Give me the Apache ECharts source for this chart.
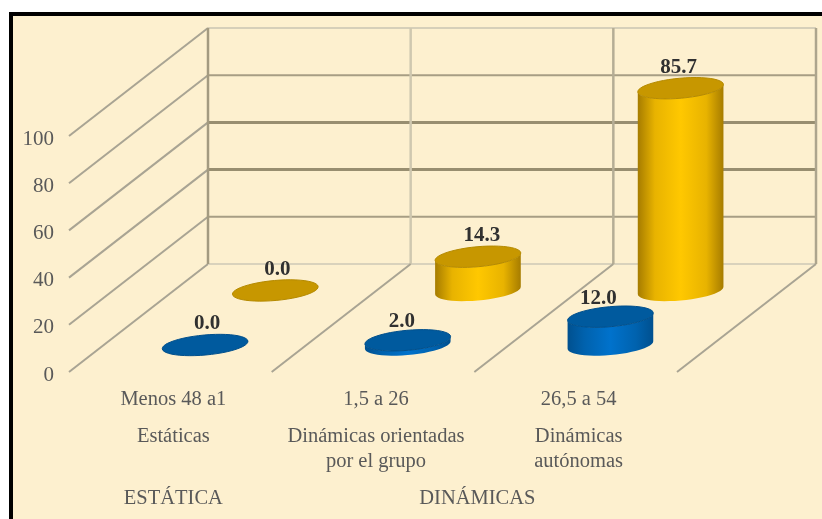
<!DOCTYPE html>
<html>
<head>
<meta charset="utf-8">
<script src="https://cdn.jsdelivr.net/npm/echarts@6/dist/echarts.min.js"></script>
<style>
  html, body { margin: 0; background: #fff; }
  #chart { position: absolute; left: 0; top: 0; width: 822px; height: 519px; }
</style>
</head>
<body>
<div id="chart"></div>
<script>
// datos
const rangos = ['Menos 48 a1', '1,5 a 26', '26,5 a 54']
const tipos = ['Estáticas', 'Dinámicas orientadas\npor el grupo', 'Dinámicas\nautónomas']
const grupos = ['', 'ESTÁTICA', '', '', 'DINÁMICAS', '', '']
const serieAtras = [0, 14.3, 85.7]
const serieFrente = [0, 2, 12]
const ticks = [0, 20, 40, 60, 80, 100]
const tickColors = ['#d9d2bc', '#a79e84', '#988e70', '#988e70', '#a79e84', '#d6cfb9']
const wallColors = ['#a39a80', '#cfc8b0', '#b5ad95', '#ada58d']

// vector de profundidad del piso 3D
const DEPTH_X = 139
const DEPTH_Y = -108
const RX = 43
const RY = 10
const TILT = -0.09

const textGray = '#595959'
const serif = '"Liberation Serif", serif'

function project (pt, d) {
  return [pt[0] + DEPTH_X * d, pt[1] + DEPTH_Y * d]
}

function ellipsePoint (c, t) {
  const ex = RX * Math.cos(t)
  const ey = RY * Math.sin(t)
  return [
    c[0] + ex * Math.cos(TILT) - ey * Math.sin(TILT),
    c[1] + ex * Math.sin(TILT) + ey * Math.cos(TILT)
  ]
}

function ellipsePoly (c) {
  const pts = []
  for (let i = 0; i < 48; i++) pts.push(ellipsePoint(c, i / 48 * Math.PI * 2))
  return pts
}

function cylinder (depth, colors) {
  return function (params, api) {
    const idx = api.value(0)
    const val = api.value(1)
    const base = project(api.coord([idx, 0]), depth)
    const top = project(api.coord([idx, val]), depth)
    const off = colors.labelOffset[idx]
    const children = []
    if (val > 0) {
      // cuerpo: mitad inferior de la base + mitad superior del tope
      const t0 = Math.atan(-(RY / RX) * Math.tan(TILT))
      const body = []
      for (let i = 0; i <= 24; i++) body.push(ellipsePoint(base, t0 + i / 24 * Math.PI))
      for (let i = 24; i >= 0; i--) body.push(ellipsePoint(top, t0 + i / 24 * Math.PI))
      children.push({
        type: 'polygon',
        shape: { points: body },
        style: {
          fill: new echarts.graphic.LinearGradient(0, 0, 1, 0, [
            { offset: 0, color: colors.edge },
            { offset: 0.2, color: colors.side },
            { offset: 0.5, color: colors.mid },
            { offset: 0.8, color: colors.side },
            { offset: 1, color: colors.edge }
          ])
        }
      })
    }
    children.push({
      type: 'polygon',
      shape: { points: ellipsePoly(top) },
      style: { fill: colors.top, stroke: colors.line, lineWidth: 1 }
    })
    children.push({
      type: 'text',
      style: {
        x: top[0] + off[0],
        y: top[1] + off[1],
        text: val.toFixed(1),
        fill: '#303030',
        font: 'bold 21px ' + serif,
        align: 'center',
        verticalAlign: 'middle'
      }
    })
    return { type: 'group', children: children }
  }
}

function renderWalls (params, api) {
  const tick = api.value(1)
  const band = api.size([1, 0])[0]
  const left = api.coord([0, tick])
  left[0] -= band / 2
  const back = project(left, 1)
  const i = params.dataIndex
  return {
    type: 'group',
    children: [
      {
        type: 'line',
        shape: { x1: left[0], y1: left[1], x2: back[0], y2: back[1] },
        style: { stroke: '#a9a493', lineWidth: 2 }
      },
      {
        type: 'line',
        shape: { x1: back[0], y1: back[1], x2: back[0] + band * rangos.length, y2: back[1] },
        style: { stroke: tickColors[i], lineWidth: i === 2 || i === 3 ? 3 : 2 }
      }
    ]
  }
}

function renderColumns (params, api) {
  const k = api.value(0)
  const band = api.size([1, 0])[0]
  const low = api.coord([0, ticks[0]])
  const high = api.coord([0, ticks[ticks.length - 1]])
  const x = low[0] - band / 2 + band * k
  const children = [{
    type: 'line',
    shape: { x1: x + DEPTH_X, y1: low[1] + DEPTH_Y, x2: x + DEPTH_X, y2: high[1] + DEPTH_Y },
    style: { stroke: wallColors[k], lineWidth: 2.5 }
  }]
  if (k > 0) {
    // linea del piso
    children.push({
      type: 'line',
      shape: { x1: x, y1: low[1], x2: x + DEPTH_X, y2: low[1] + DEPTH_Y },
      style: { stroke: '#a9a493', lineWidth: 2 }
    })
  }
  return { type: 'group', children: children }
}

function xLevel (data, margin) {
  return {
    type: 'category',
    data: data,
    position: 'bottom',
    axisLine: { show: false },
    axisTick: { show: false },
    splitLine: { show: false },
    axisLabel: {
      interval: 0,
      margin: margin,
      color: textGray,
      fontFamily: serif,
      fontSize: 20.5,
      lineHeight: 25,
      padding: [0, 0, 0, 6]
    }
  }
}

const groupAxis = xLevel(grupos, 114)
groupAxis.boundaryGap = false

// colores y ajuste de etiquetas por serie
const goldStyle = {
  edge: '#a67c00', side: '#e8b300', mid: '#ffc800', top: '#c79700', line: '#b58a00',
  labelOffset: [[2, -21], [4, -21], [-2, -21]]
}
const blueStyle = {
  edge: '#00508f', side: '#0062ae', mid: '#0072cc', top: '#005a9e', line: '#004f8c',
  labelOffset: [[2, -21], [-6, -19], [-12, -18]]
}

const myChart = echarts.init(document.getElementById('chart'))
myChart.setOption({
  animation: false,
  backgroundColor: '#fff',
  graphic: [{
    type: 'rect',
    z: -10,
    silent: true,
    shape: { x: 11, y: 14, width: 830, height: 530 },
    style: { fill: '#fdf0cf', stroke: '#000', lineWidth: 4 }
  }],
  grid: { left: 69, right: 145, top: 136, bottom: 147 },
  xAxis: [xLevel(rangos, 15), xLevel(tipos, 52), groupAxis],
  yAxis: {
    type: 'value',
    min: 0,
    max: 100,
    interval: 20,
    axisLine: { show: false },
    axisTick: { show: false },
    splitLine: { show: false },
    axisLabel: {
      margin: 15,
      color: textGray,
      fontFamily: serif,
      fontSize: 21,
      verticalAlign: 'top',
      lineHeight: 6
    }
  },
  series: [
    {
      type: 'custom',
      renderItem: renderWalls,
      clip: false,
      silent: true,
      data: ticks.map(t => [0, t])
    },
    {
      type: 'custom',
      renderItem: renderColumns,
      clip: false,
      silent: true,
      data: wallColors.map((c, k) => [k, 0])
    },
    {
      type: 'custom',
      name: 'atras',
      renderItem: cylinder(0.755, goldStyle),
      clip: false,
      data: serieAtras.map((v, i) => [i, v])
    },
    {
      type: 'custom',
      name: 'frente',
      renderItem: cylinder(0.25, blueStyle),
      clip: false,
      data: serieFrente.map((v, i) => [i, v])
    }
  ]
})
</script>
</body>
</html>
